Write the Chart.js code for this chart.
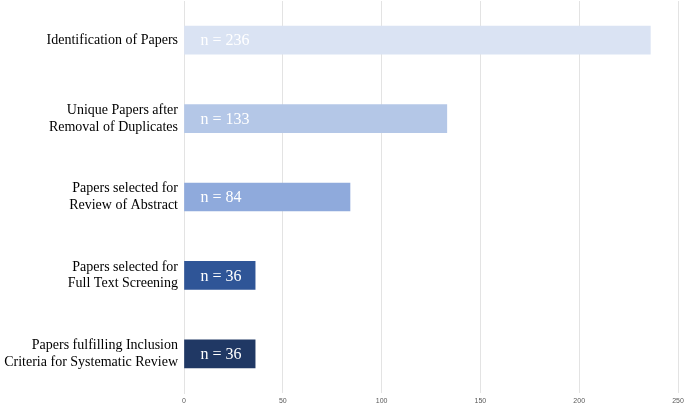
<!DOCTYPE html>
<html>
<head>
<meta charset="utf-8">
<script src="https://cdn.jsdelivr.net/npm/chart.js@4"></script>
<style>
  html, body { margin: 0; padding: 0; background: #fff; }
  #wrap { width: 685px; height: 406px; }
</style>
</head>
<body>
<div id="wrap"><canvas id="prismaChart"></canvas></div>
<script>
const stages = [
    'Identification of Papers',
    ['Unique Papers after', 'Removal of Duplicates'],
    ['Papers selected for', 'Review of Abstract'],
    ['Papers selected for', 'Full Text Screening'],
    ['Papers fulfilling Inclusion', 'Criteria for Systematic Review']
];
const paperCounts = [236, 133, 84, 36, 36];
const barColors = ['#dae3f3', '#b4c7e7', '#8faadc', '#2f5597', '#203864'];
const xTicks = [0, 50, 100, 150, 200, 250];

// writes "n = ..." inside each bar
const countLabels = {
    id: 'countLabels',
    afterDatasetsDraw(chart) {
        const c = chart.ctx;
        const meta = chart.getDatasetMeta(0);
        c.save();
        c.font = '16px "Liberation Serif", "Times New Roman", serif';
        c.fillStyle = '#ffffff';
        c.textAlign = 'left';
        c.textBaseline = 'middle';
        meta.data.forEach(function (bar, i) {
            c.fillText('n = ' + paperCounts[i], bar.base + 16, bar.y + 1);
        });
        c.restore();
    }
};

new Chart(document.getElementById('prismaChart').getContext('2d'), {
    type: 'bar',
    data: {
        labels: stages,
        datasets: [{
            data: paperCounts,
            backgroundColor: barColors,
            borderWidth: 0,
            barThickness: 28
        }]
    },
    options: {
        indexAxis: 'y',
        responsive: true,
        maintainAspectRatio: false,
        animation: false,
        layout: { padding: { top: 1, right: 7, left: 0, bottom: 0 } },
        plugins: {
            legend: { display: false },
            tooltip: { enabled: false }
        },
        scales: {
            x: {
                min: 0,
                max: 250,
                afterBuildTicks: function (axis) {
                    axis.ticks = xTicks.map(function (v) { return { value: v }; });
                },
                afterFit: function (axis) {
                    axis.height = 13;
                    axis.paddingLeft = 0;
                    axis.paddingRight = 0;
                },
                grid: { color: '#e3e3e3', lineWidth: 1, drawTicks: false },
                border: { display: false },
                ticks: {
                    padding: 4,
                    color: '#595959',
                    font: { family: '"Liberation Sans", Arial, sans-serif', size: 7 }
                }
            },
            y: {
                afterFit: function (axis) {
                    axis.width = 184;
                    axis.paddingTop = 0;
                    axis.paddingBottom = 0;
                },
                grid: { display: false, drawTicks: false },
                border: { color: '#e3e3e3' },
                ticks: {
                    padding: 6,
                    color: '#000000',
                    font: { family: '"Liberation Serif", "Times New Roman", serif', size: 14, lineHeight: 1.2 }
                }
            }
        }
    },
    plugins: [countLabels]
});
</script>
</body>
</html>
